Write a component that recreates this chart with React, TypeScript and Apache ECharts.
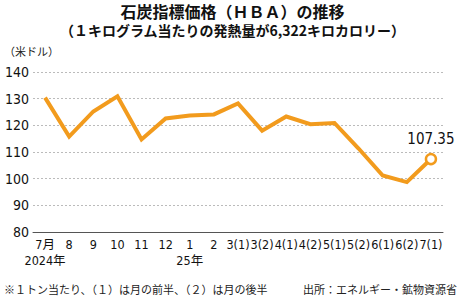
import React, { useEffect, useRef } from "react";
import * as echarts from "echarts";

const categories = ["7月\n2024年", "8", "9", "10", "11", "12", "1\n25年", "2", "3(1)", "3(2)", "4(1)", "4(2)", "5(1)", "5(2)", "6(1)", "6(2)", "7(1)"];
const hbaValues = [130.4, 115.8, 125.2, 130.9, 114.7, 122.6, 123.7, 124.1, 128.2, 118.0, 123.3, 120.4, 120.9, 111.3, 101.2, 98.7, 107.35];
const yTicks = { min: 80, max: 140, interval: 10 };

const ORANGE = "#F29B1D";
const NARROW = "'Liberation Sans Narrow', 'DejaVu Sans Condensed', 'Noto Sans CJK JP', sans-serif";
const JP = "'Noto Sans CJK JP', sans-serif";

export default function App() {
  const ref = useRef<HTMLDivElement>(null);
  useEffect(() => {
    if (!ref.current) return;
    const chart = echarts.init(ref.current, undefined, { renderer: "svg" });
    const last = hbaValues.length - 1;
    chart.setOption({
      animation: false,
      backgroundColor: "#ffffff",
      title: [
        {
          text: "石炭指標価格（ＨＢＡ）の推移",
          left: "center",
          top: 3,
          padding: 0,
          textStyle: { fontFamily: JP, fontSize: 16, fontWeight: "bold", color: "#111", lineHeight: 16 },
        },
        {
          text: "（１キログラム当たりの発熱量が6,322キロカロリー）",
          left: "center",
          top: 23,
          padding: 0,
          textStyle: { fontFamily: JP, fontSize: 14, fontWeight: "bold", color: "#111", lineHeight: 14 },
        },
      ],
      graphic: [
        { type: "text", left: 4, top: 45, style: { text: "（米ドル）", font: `11px ${JP}`, fill: "#222" } },
        { type: "text", left: 4, top: 283, style: { text: "※１トン当たり、（１）は月の前半、（２）は月の後半", font: `11px ${JP}`, fill: "#222" } },
        { type: "text", right: 8, top: 283, style: { text: "出所：エネルギー・鉱物資源省", font: `11px ${JP}`, fill: "#222" } },
      ],
      grid: { left: 33, right: 22, top: 72, bottom: 68 },
      xAxis: {
        type: "category",
        data: categories,
        boundaryGap: true,
        axisLine: { show: true, lineStyle: { color: "#555", width: 1 } },
        axisTick: { show: false },
        axisLabel: {
          interval: 0,
          margin: 4,
          fontFamily: NARROW,
          fontSize: 12.5,
          color: "#111",
          lineHeight: 16,
        },
      },
      yAxis: {
        type: "value",
        min: yTicks.min,
        max: yTicks.max,
        interval: yTicks.interval,
        axisLine: { show: false },
        axisTick: { show: false },
        axisLabel: { fontFamily: NARROW, fontSize: 14, color: "#111", margin: 4 },
        splitLine: { show: true, lineStyle: { color: "#bbb", type: [2, 2], width: 1 } },
      },
      series: [
        {
          type: "line",
          data: hbaValues.map((v, i) =>
            i === last
              ? {
                  value: v,
                  symbol: "circle",
                  symbolSize: 10,
                  itemStyle: { color: "#fff", borderColor: ORANGE, borderWidth: 2.5 },
                  label: {
                    show: true,
                    position: "top",
                    distance: 6,
                    formatter: "107.35",
                    fontFamily: NARROW,
                    fontSize: 15,
                    color: "#111",
                  },
                }
              : { value: v, symbol: "none" }
          ),
          symbol: "none",
          lineStyle: { color: ORANGE, width: 4, join: "miter" },
          itemStyle: { color: ORANGE },
          z: 3,
        },
      ],
    });
    return () => chart.dispose();
  }, []);
  return <div ref={ref} style={{ position: "fixed", left: 0, top: 0, width: 465, height: 300 }} />;
}
